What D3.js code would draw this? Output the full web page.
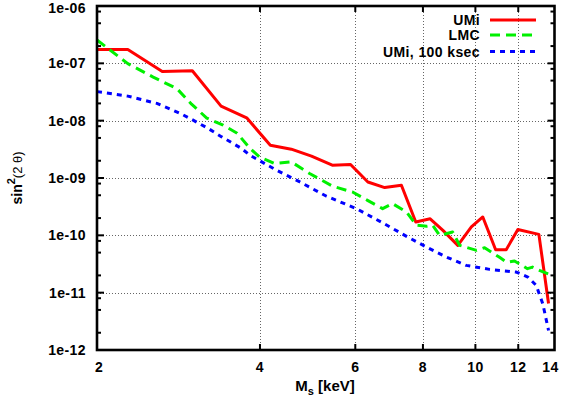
<!DOCTYPE html>
<html><head><meta charset="utf-8">
<script src="https://cdn.jsdelivr.net/npm/d3@7"></script>
<style>body{margin:0;background:#fff}svg{display:block}</style>
</head><body><svg id="c" width="566" height="399"></svg>
<script>
// ---- data ----
const xTicks = [2, 4, 6, 8, 10, 12, 14];
const xTickLabels = ["2", "4", "6", "8", "10", "12", "14"];
const yTicks = [1e-12, 1e-11, 1e-10, 1e-9, 1e-8, 1e-7, 1e-6];
const yTickLabels = ["1e-12", "1e-11", "1e-10", "1e-09", "1e-08", "1e-07", "1e-06"];
const seriesNames = ["UMi", "LMC", "UMi, 100 ksec"];

const umiX = [2.0, 2.28, 2.64, 3.0, 3.39, 3.78, 4.18, 4.57, 4.98, 5.44, 5.88, 6.33, 6.80, 7.30, 7.76, 8.25, 8.71, 9.28, 9.83, 10.32, 10.90, 11.40, 11.98, 13.10, 13.65];
const umiY = [1.74e-7, 1.74e-7, 7.23e-8, 7.41e-8, 1.79e-8, 1.12e-8, 3.73e-9, 3.18e-9, 2.40e-9, 1.67e-9, 1.72e-9, 8.53e-10, 6.81e-10, 7.47e-10, 1.71e-10, 1.94e-10, 1.22e-10, 6.69e-11, 1.40e-10, 2.09e-10, 5.62e-11, 5.62e-11, 1.26e-10, 1.04e-10, 6.49e-12];

const lmcX = [2.0, 2.28, 2.54, 2.81, 2.99, 3.19, 3.42, 3.63, 3.83, 4.00, 4.26, 4.57, 4.94, 5.45, 5.93, 6.32, 6.74, 7.03, 7.47, 7.78, 8.13, 8.34, 8.59, 9.08, 9.35, 10.05, 10.40, 11.08, 11.42, 11.81, 12.48, 12.75, 13.13, 14.0];
const lmcY = [2.55e-7, 9.9e-8, 5.75e-8, 3.62e-8, 1.94e-8, 1.11e-8, 8.34e-9, 6.05e-9, 3.31e-9, 2.30e-9, 1.79e-9, 1.91e-9, 1.20e-9, 7.18e-10, 5.70e-10, 4.08e-10, 2.92e-10, 3.58e-10, 2.52e-10, 1.50e-10, 1.44e-10, 1.50e-10, 1.0e-10, 1.14e-10, 6.69e-11, 5.47e-11, 6.10e-11, 4.13e-11, 3.38e-11, 3.56e-11, 2.62e-11, 2.79e-11, 2.45e-11, 1.92e-11];

const umi100X = [2.0, 2.28, 2.58, 2.85, 3.01, 3.21, 3.40, 3.70, 3.83, 4.29, 4.74, 5.31, 6.03, 6.75, 7.46, 8.12, 8.84, 9.62, 10.62, 11.90, 12.50, 12.95, 13.32, 13.65];
const umi100Y = [3.21e-8, 2.68e-8, 2.0e-8, 1.34e-8, 1.02e-8, 7.31e-9, 5.21e-9, 3.27e-9, 2.50e-9, 1.37e-9, 8.53e-10, 4.80e-10, 2.92e-10, 1.64e-10, 9.61e-11, 6.25e-11, 4.18e-11, 2.99e-11, 2.55e-11, 2.29e-11, 1.87e-11, 1.34e-11, 6.41e-12, 2.19e-12];

// ---- layout ----
const W = 566, H = 399;
const L = 97, R = 554.5, T = 6, B = 350;
const FONT = "'Liberation Sans', Arial, Helvetica, sans-serif";

const x = d3.scaleLog().domain([2, 14]).range([L, R]);
const y = d3.scaleLog().domain([1e-12, 1e-6]).range([B, T]);

const svg = d3.select("#c");
svg.append("rect").attr("width", W).attr("height", H).attr("fill", "#fff");

// grid
const grid = svg.append("g").attr("stroke", "#666").attr("stroke-width", 1).attr("stroke-dasharray", "1,2");
grid.selectAll("line.gx").data(xTicks.slice(1, -1)).join("line")
  .attr("x1", d => Math.round(x(d)) + 0.5).attr("x2", d => Math.round(x(d)) + 0.5)
  .attr("y1", T).attr("y2", B);
grid.selectAll("line.gy").data(yTicks.slice(1, -1)).join("line")
  .attr("y1", d => Math.round(y(d)) + 0.5).attr("y2", d => Math.round(y(d)) + 0.5)
  .attr("x1", L).attr("x2", R);

// series
const series = [
  { name: seriesNames[0], xs: umiX, ys: umiY, color: "#ff0000", dash: null },
  { name: seriesNames[1], xs: lmcX, ys: lmcY, color: "#00f000", dash: "10,6" },
  { name: seriesNames[2], xs: umi100X, ys: umi100Y, color: "#0000ff", dash: "5,5" }
];
const line = d3.line().x(d => x(d[0])).y(d => y(d[1]));
series.forEach(s => {
  const pts = s.xs.map((v, i) => [v, s.ys[i]]);
  svg.append("path").datum(pts).attr("d", line)
    .attr("fill", "none").attr("stroke", s.color).attr("stroke-width", 3)
    .attr("stroke-linejoin", "round")
    .attr("stroke-dasharray", s.dash);
});

// ticks
const yMinor = [];
yTicks.slice(0, -1).forEach(t => [2, 5, 8].forEach(m => yMinor.push(t * m)));
const tickG = svg.append("g").attr("stroke", "#000").attr("stroke-width", 2);
yTicks.forEach(t => {
  const yy = y(t);
  tickG.append("line").attr("x1", L).attr("x2", L + 7).attr("y1", yy).attr("y2", yy);
  tickG.append("line").attr("x1", R).attr("x2", R - 7).attr("y1", yy).attr("y2", yy);
});
yMinor.forEach(t => {
  const yy = y(t);
  tickG.append("line").attr("x1", L).attr("x2", L + 4).attr("y1", yy).attr("y2", yy);
  tickG.append("line").attr("x1", R).attr("x2", R - 4).attr("y1", yy).attr("y2", yy);
});
xTicks.slice(1, -1).forEach(t => {
  const xx = x(t);
  tickG.append("line").attr("x1", xx).attr("x2", xx).attr("y1", B).attr("y2", B - 6);
  tickG.append("line").attr("x1", xx).attr("x2", xx).attr("y1", T).attr("y2", T + 6);
});

// frame
svg.append("rect").attr("x", L).attr("y", T).attr("width", R - L).attr("height", B - T)
  .attr("fill", "none").attr("stroke", "#000").attr("stroke-width", 2.6);

// tick labels
const lab = svg.append("g").attr("font-family", FONT).attr("font-weight", "bold").attr("font-size", 14).attr("fill", "#000");
lab.selectAll("text.yl").data(yTicks).join("text")
  .attr("x", 86).attr("y", (d, i) => Math.max(y(d), 8)).attr("dy", "0.36em")
  .attr("text-anchor", "end").attr("letter-spacing", "0.4")
  .text((d, i) => yTickLabels[i]);
lab.selectAll("text.xl").data(xTicks).join("text")
  .attr("x", (d, i) => x(d) + (i === 0 ? 2 : 0) - (i === xTicks.length - 1 ? 4 : 0))
  .attr("y", 367).attr("dy", "0.36em")
  .attr("text-anchor", "middle").attr("letter-spacing", "0.4")
  .text((d, i) => xTickLabels[i]);

// axis titles
const xt = svg.append("text").attr("x", 325).attr("y", 391).attr("text-anchor", "middle")
  .attr("font-family", FONT).attr("font-weight", "bold").attr("font-size", 15);
xt.append("tspan").text("M");
xt.append("tspan").attr("font-size", 11).attr("dy", 4).text("s");
xt.append("tspan").attr("dy", -4).text(" [keV]");

const yt = svg.append("text").attr("transform", "translate(22,178) rotate(-90)")
  .attr("text-anchor", "middle").attr("font-family", FONT).attr("font-size", 14);
yt.append("tspan").attr("font-weight", "bold").text("sin");
yt.append("tspan").attr("font-weight", "bold").attr("font-size", 11).attr("dy", -7).text("2");
yt.append("tspan").attr("dy", 7).attr("font-size", 13).text("(2 θ)");

// legend
const legY = [20, 35, 51.5];
series.forEach((s, i) => {
  svg.append("text").attr("x", 480).attr("y", legY[i]).attr("dy", "0.36em")
    .attr("text-anchor", "end").attr("font-family", FONT).attr("font-weight", "bold")
    .attr("font-size", 14).attr("letter-spacing", "0.4").text(s.name);
  svg.append("line").attr("x1", 490).attr("x2", 536).attr("y1", legY[i]).attr("y2", legY[i])
    .attr("stroke", s.color).attr("stroke-width", 3).attr("stroke-dasharray", s.dash);
});
</script>
</body></html>
